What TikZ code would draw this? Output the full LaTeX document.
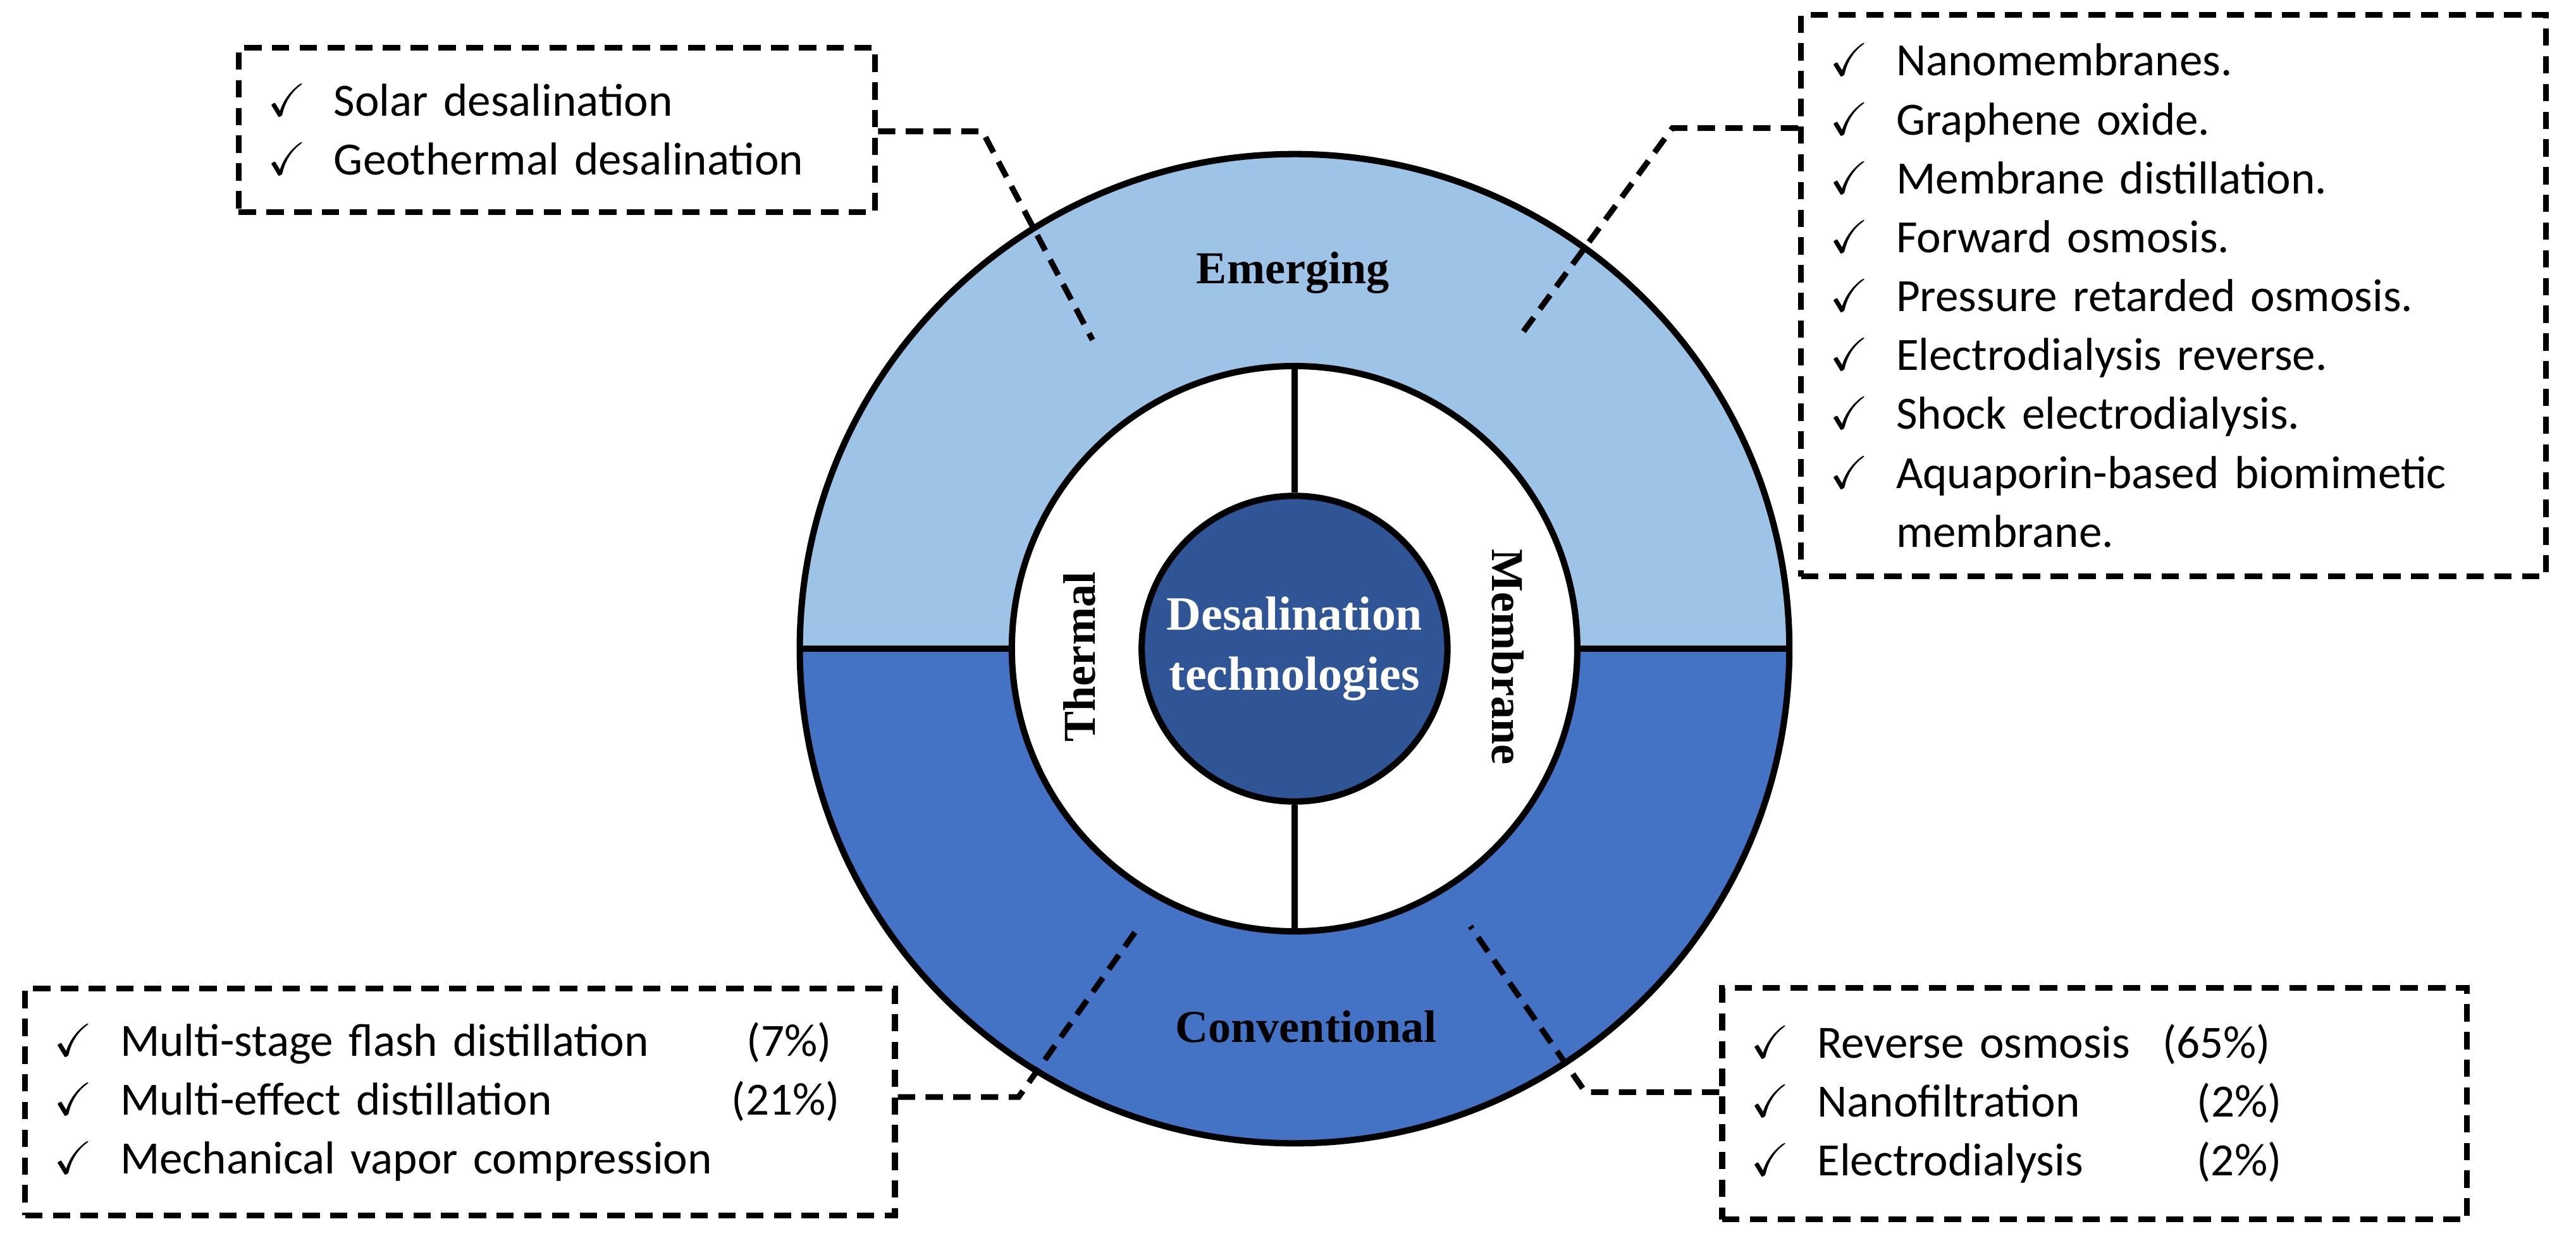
\documentclass[tikz,border=0pt]{standalone}
\usepackage{amssymb}
\usepackage{fontspec}
\setmainfont{Liberation Serif}
\newfontfamily\listfont{Carlito}
\usetikzlibrary{positioning}
\definecolor{emerg}{HTML}{9DC3E6}
\definecolor{conv}{HTML}{4472C4}
\definecolor{core}{HTML}{2F5597}
\tikzset{
  ring/.style={circle,draw=black,line width=1.1pt,inner sep=0pt},
  techbox/.style={draw=black,line width=1pt,dash pattern=on 3pt off 1.8pt,
    inner sep=5pt,align=left,font=\listfont\fontsize{8}{10.2}\selectfont},
  leader/.style={line width=1pt,dash pattern=on 3pt off 1.8pt},
  seclabel/.style={font=\bfseries\fontsize{7.9}{9}\selectfont}
}
\newcommand{\ck}{$\checkmark$\hspace{0.6em}}
\begin{document}
\begin{tikzpicture}[x=0.01cm,y=-0.01cm]
  \useasboundingbox (0,0) rectangle (1568,764);
  % --- ring fills ---
  \begin{scope}
    \clip (0,0) rectangle (1568,394);
    \fill[emerg] (788,395) circle[radius=3.01cm];
  \end{scope}
  \begin{scope}
    \clip (0,394) rectangle (1568,764);
    \fill[conv] (788,395) circle[radius=3.01cm];
  \end{scope}
  \node[ring,minimum size=6.02cm] (outer) at (788,395) {};
  \draw[line width=1.1pt] (outer.west) -- (outer.east);
  \node[ring,fill=white,minimum size=3.44cm] (mid) at (788,395) {};
  \node[ring,fill=core,minimum size=1.86cm,text=white,font=\bfseries\fontsize{8.3}{10.5}\selectfont,align=center]
    (core) at (788,395) {Desalination\\technologies};
  \draw[line width=1.1pt] (mid.north) -- (core.north);
  \draw[line width=1.1pt] (core.south) -- (mid.south);
  % --- labels ---
  \node[seclabel] (emlab) at (787,166) {Emerging};
  \node[seclabel] (cvlab) at (795,625) {Conventional};
  \node[seclabel,rotate=90] (thlab) at (657,400) {Thermal};
  \node[seclabel,rotate=-90] (mblab) at (918,400) {Membrane};
  % --- boxes ---
  \node[techbox,minimum width=3.7cm,minimum height=1.0cm,text width=3.52cm] (tl) at (339,79)
    {\ck Solar desalination\\\ck Geothermal desalination};
  \node[techbox,minimum width=4.36cm,minimum height=3.26cm,text width=4.18cm] (tr) at (1323,180)
    {\ck Nanomembranes.\\\ck Graphene oxide.\\\ck Membrane distillation.\\\ck Forward osmosis.\\
     \ck Pressure retarded osmosis.\\\ck Electrodialysis reverse.\\\ck Shock electrodialysis.\\
     \ck Aquaporin-based biomimetic\\\phantom{\ck}membrane.};
  \node[techbox,minimum width=5.12cm,minimum height=1.38cm,text width=4.94cm] (bl) at (280,671)
    {\ck\makebox[3.72cm][l]{Multi-stage flash distillation}\ (7\%)\\
     \ck\makebox[3.72cm][l]{Multi-effect distillation}(21\%)\\
     \ck Mechanical vapor compression};
  \node[techbox,minimum width=4.36cm,minimum height=1.41cm,text width=4.18cm] (br) at (1275,672)
    {\ck\makebox[2.1cm][l]{Reverse osmosis}(65\%)\\
     \ck\makebox[2.1cm][l]{Nanofiltration}\hspace{0.75em}(2\%)\\
     \ck\makebox[2.1cm][l]{Electrodialysis}\hspace{0.75em}(2\%)};
  % --- leaders ---
  \coordinate (tlk) at (598,80);  \coordinate (tle) at (665,207);
  \coordinate (trk) at (1018,78); \coordinate (tre) at (925,205);
  \coordinate (blk) at (620,668); \coordinate (ble) at (692,566);
  \coordinate (brk) at (965,665); \coordinate (bre) at (895,564);
  \draw[leader] (tl.east |- tlk) -- (tlk) -- (tle);
  \draw[leader] (tr.west |- trk) -- (trk) -- (tre);
  \draw[leader] (bl.east |- blk) -- (blk) -- (ble);
  \draw[leader] (br.west |- brk) -- (brk) -- (bre);
\end{tikzpicture}
\end{document}
